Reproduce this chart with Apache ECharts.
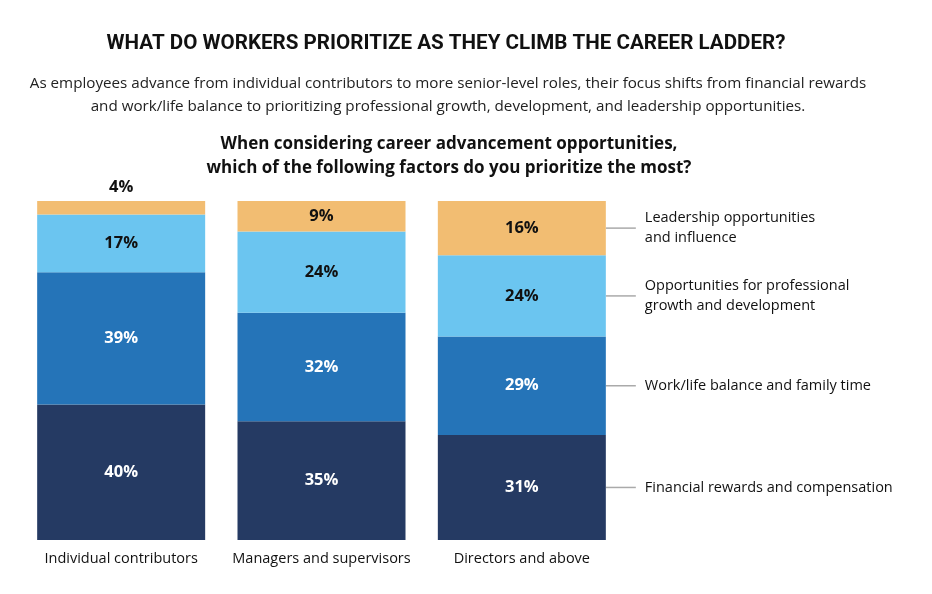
<!DOCTYPE html>
<html>
<head>
<meta charset="utf-8">
<script src="https://cdn.jsdelivr.net/npm/echarts@6/dist/echarts.min.js"></script>
<style>
html,body{margin:0;padding:0;background:#fff;}
#chart{width:932px;height:594px;}
</style>
</head>
<body>
<div id="chart"></div>
<script>
// categories and shares (percent)
var categories = ['Individual contributors', 'Managers and supervisors', 'Directors and above'];
var financial = [40, 35, 31];
var workLife = [39, 32, 29];
var growth = [17, 24, 24];
var leadership = [4, 9, 16];
var seriesNames = ['Financial rewards and compensation', 'Work/life balance and family time',
    'Opportunities for professional\ngrowth and development', 'Leadership opportunities\nand influence'];
var colors = ['#253a63', '#2574b8', '#6bc5f0', '#f2bd72'];
var labelColors = ['#fff', '#fff', '#111', '#111'];

var font = '"Open Sans", "Noto Sans", sans-serif';
var chart = echarts.init(document.getElementById('chart'));

function makeSeries(name, data, idx) {
    return {
        name: name,
        type: 'bar',
        stack: 'all',
        barWidth: 168,
        data: data.map(function (v, i) {
            var d = {value: v};
            // too thin for the label inside, put it above
            if (v < 6) d.label = {position: 'top', color: '#111'};
            return d;
        }),
        itemStyle: {color: colors[idx]},
        label: {
            show: true,
            position: 'inside',
            formatter: '{c}%',
            fontFamily: font,
            fontSize: 16.5,
            fontWeight: 'bold',
            color: labelColors[idx]
        },
        silent: true
    };
}

var option = {
    animation: false,
    backgroundColor: '#fff',
    title: [{
        text: 'WHAT DO WORKERS PRIORITIZE AS THEY CLIMB THE CAREER LADDER?',
        left: 441, top: 28, textAlign: 'center',
        textStyle: {fontFamily: 'Roboto, sans-serif', fontSize: 20.6, fontWeight: 'bold', color: '#111'}
    }, {
        text: 'As employees advance from individual contributors to more senior-level roles, their focus shifts from financial rewards\nand work/life balance to prioritizing professional growth, development, and leadership opportunities.',
        left: 443, top: 67, textAlign: 'center',
        textStyle: {fontFamily: font, fontSize: 15.2, fontWeight: 'normal', color: '#222', lineHeight: 23, align: 'center'}
    }, {
        text: 'When considering career advancement opportunities,\nwhich of the following factors do you prioritize the most?',
        left: 444, top: 127, textAlign: 'center',
        textStyle: {fontFamily: font, fontSize: 17, fontWeight: 'bold', color: '#111', lineHeight: 24, align: 'center'}
    }],
    grid: {left: 21, right: 310, top: 201, bottom: 54},
    xAxis: {
        type: 'category',
        data: categories,
        axisLine: {show: false},
        axisTick: {show: false},
        axisLabel: {fontFamily: font, fontSize: 14.5, color: '#111', margin: 11, interval: 0}
    },
    yAxis: {
        type: 'value', min: 0, max: 100,
        show: false
    },
    series: [
        makeSeries(seriesNames[0], financial, 0),
        makeSeries(seriesNames[1], workLife, 1),
        makeSeries(seriesNames[2], growth, 2),
        makeSeries(seriesNames[3], leadership, 3)
    ]
};
chart.setOption(option);

// leader lines and series names next to the last bar
var last = categories.length - 1;
var stacks = [financial, workLife, growth, leadership];
var graphics = [];
var base = 0;
var barRight = chart.convertToPixel({xAxisIndex: 0}, categories[last]) + 84;
for (var s = 0; s < stacks.length; s++) {
    var v = stacks[s][last];
    var y = chart.convertToPixel({yAxisIndex: 0}, base + v / 2);
    base += v;
    graphics.push({
        type: 'line',
        shape: {x1: barRight, y1: y, x2: barRight + 30, y2: y},
        style: {stroke: '#aaa', lineWidth: 1.5}
    });
    graphics.push({
        type: 'text',
        x: barRight + 39, y: y,
        style: {
            text: seriesNames[s],
            fontFamily: font, fontSize: 14.5, fill: '#111',
            lineHeight: 20, verticalAlign: 'middle'
        }
    });
}
chart.setOption({graphic: graphics});
</script>
</body>
</html>
